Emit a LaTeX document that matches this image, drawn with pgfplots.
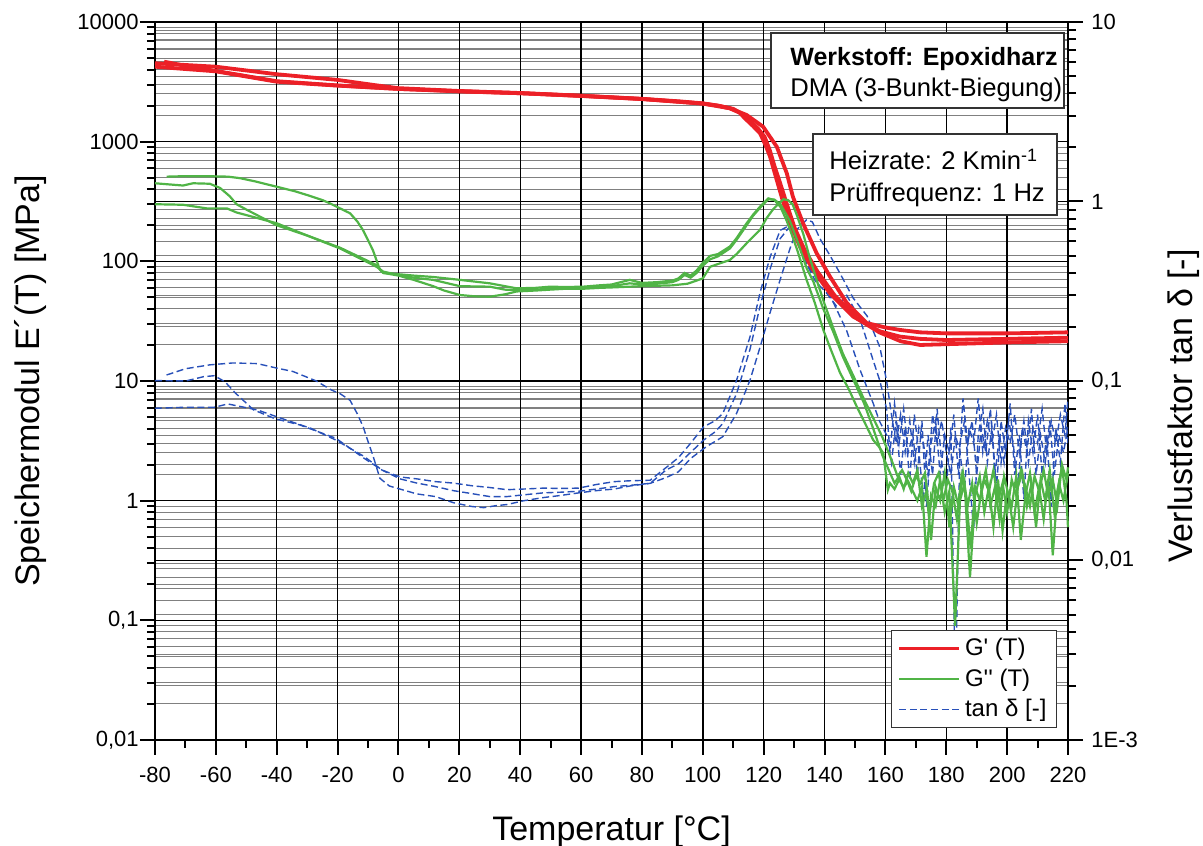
\documentclass[border=0pt]{standalone}
\usepackage{fontspec}
\setmainfont{Liberation Sans}
\usepackage{pgfplots}
\pgfplotsset{compat=1.18}

\definecolor{gred}{RGB}{236,32,39}
\definecolor{ggreen}{RGB}{80,180,70}
\definecolor{tblue}{RGB}{40,80,185}

\pgfplotsset{
  dmabase/.style={
    set layers,
    scale only axis, width=456.5pt, height=359pt,
    xmin=-80, xmax=220,
    axis line style={line width=1.4pt},
    tick style={line width=1pt, black},
    major tick length=7.5pt, minor tick length=4pt,
    tick align=outside,
    tick label style={font=\fontsize{11}{13}\selectfont},
    major grid style={black, line width=0.6pt},
    minor grid style={black!50, line width=0.5pt},
    label style={font=\fontsize{17}{20}\selectfont},
  },
  gp/.style={gred, line width=1.9pt},
  gpp/.style={ggreen, line width=1.1pt},
  td/.style={tblue, line width=0.7pt, dash pattern=on 3.5pt off 1.8pt},
  vgrid/.style={black, line width=0.7pt, forget plot},
}

\begin{document}
\begin{tikzpicture}

% right axis: loss factor tan delta
\begin{axis}[dmabase,
  axis x line=none, axis y line*=right,
  ymode=log, ymin=1e-3, ymax=10,
  ytick={0.001,0.01,0.1,1,10},
  yticklabels={1E-3,{0,01},{0,1},1,10},
  ymajorgrids, yminorgrids,
  yticklabel style={anchor=west, inner sep=0pt, xshift=4pt},
  ylabel={Verlustfaktor tan δ [-]},
  ylabel style={at={([xshift=58pt]axis description cs:1,0.465)}, anchor=center},
]
% vertical grid at the major temperature ticks
\addplot[vgrid] coordinates {(-60,0.001)(-60,10)};
\addplot[vgrid] coordinates {(-40,0.001)(-40,10)};
\addplot[vgrid] coordinates {(-20,0.001)(-20,10)};
\addplot[vgrid] coordinates {(0,0.001)(0,10)};
\addplot[vgrid] coordinates {(20,0.001)(20,10)};
\addplot[vgrid] coordinates {(40,0.001)(40,10)};
\addplot[vgrid] coordinates {(60,0.001)(60,10)};
\addplot[vgrid] coordinates {(80,0.001)(80,10)};
\addplot[vgrid] coordinates {(100,0.001)(100,10)};
\addplot[vgrid] coordinates {(120,0.001)(120,10)};
\addplot[vgrid] coordinates {(140,0.001)(140,10)};
\addplot[vgrid] coordinates {(160,0.001)(160,10)};
\addplot[vgrid] coordinates {(180,0.001)(180,10)};
\addplot[vgrid] coordinates {(200,0.001)(200,10)};
\addplot[td] coordinates {
(-76.2,0.108)(-70,0.117)(-62,0.123)(-54.5,0.126)(-46.4,0.125)(-40,0.118)(-34.7,0.113)
(-27,0.1)(-22,0.089)(-19.2,0.085)(-15.9,0.078)(-13.6,0.066)(-11.6,0.0556)(-10,0.046)
(-8.3,0.038)(-6.1,0.0287)(-3,0.026)(0.5,0.025)(6,0.0235)(12.2,0.0227)(18,0.021)
(24,0.0200)(28,0.0197)(32,0.0202)(35.7,0.0205)(41,0.0215)(47.5,0.0224)(53,0.023)
(59.2,0.0238)(65,0.0245)(70.9,0.025)(76,0.026)(82.7,0.0269)(88,0.029)(92,0.0312)
(96,0.037)(101.3,0.0432)(104,0.046)(106.6,0.049)(111.1,0.066)(115.5,0.101)(118.8,0.154)
(122.1,0.24)(125.4,0.366)(128.7,0.55)(131,0.7)(134.1,0.79)(136,0.77)(138.5,0.62)
(141.8,0.5)(145,0.4)(149.4,0.29)(154,0.23)(158.2,0.154)(160.4,0.1)(162,0.065)
(163.5,0.045)(165,0.065)(166.5,0.04)(168,0.06)(169.5,0.035)(171,0.055)(172.5,0.045)
(174,0.03)(175.5,0.065)(177,0.045)(178.5,0.06)(180,0.04)(181.5,0.03)(183,0.05)
(184.5,0.04)(186,0.025)(187.5,0.055)(189,0.045)(190.5,0.08)(192,0.04)(193.5,0.06)
(195,0.045)(196.5,0.065)(198,0.035)(199.5,0.055)(201,0.045)(202.5,0.065)(204,0.04)
(205.5,0.06)(207,0.035)(208.5,0.055)(210,0.045)(211.5,0.07)(213,0.04)(214.5,0.06)
(216,0.045)(217.5,0.065)(219,0.05)(220,0.08)};
\addplot[td] coordinates {
(-80,0.1005)(-69.9,0.1)(-64,0.1057)(-60.5,0.107)(-57,0.099)(-53.5,0.0854)(-47.6,0.069)
(-40.6,0.0617)(-32.4,0.0569)(-20.6,0.048)(-11.2,0.037)(-5.4,0.0319)(0.5,0.0285)(6,0.027)
(12.2,0.0258)(18,0.0245)(24,0.0236)(30,0.0227)(35.7,0.0227)(41,0.0232)(47.5,0.0238)
(53,0.024)(59.2,0.0243)(65,0.025)(70.9,0.0258)(76,0.0262)(82.7,0.0269)(88,0.032)
(92,0.0345)(96,0.04)(100.3,0.0469)(104,0.052)(106.6,0.058)(111.1,0.085)(115.5,0.15)
(118.8,0.26)(122.1,0.42)(125.4,0.62)(128.7,0.73)(130.5,0.7)(132,0.62)(134.1,0.45)
(137,0.38)(140.6,0.33)(144,0.25)(147.3,0.19)(151.7,0.115)(156,0.075)(158,0.06)
(160.4,0.05)(162,0.035)(163.5,0.06)(165,0.03)(166.5,0.055)(168,0.028)(169.5,0.065)
(171,0.04)(172.5,0.022)(174,0.05)(175.5,0.03)(177,0.07)(178.5,0.035)(180,0.025)
(181.5,0.055)(183,0.0018)(184.5,0.045)(186,0.06)(187.5,0.03)(189,0.015)(190.5,0.05)
(192,0.07)(193.5,0.035)(195,0.055)(196.5,0.025)(198,0.06)(199.5,0.04)(201,0.075)
(202.5,0.03)(204,0.05)(205.5,0.022)(207,0.06)(208.5,0.04)(210,0.065)(211.5,0.03)
(213,0.05)(214.5,0.02)(216,0.055)(217.5,0.035)(219,0.075)(220,0.045)};
\addplot[td] coordinates {
(-80,0.0705)(-69.9,0.0714)(-60.5,0.0714)(-56.1,0.0745)(-46.4,0.069)(-38.2,0.0617)
(-28.8,0.0545)(-20.6,0.0469)(-11.2,0.0379)(-5.4,0.0319)(0.5,0.0292)(6,0.0285)
(12.2,0.0275)(18,0.027)(24,0.0261)(30,0.0255)(35.7,0.0248)(41,0.025)(47.5,0.0253)
(53,0.0252)(59.2,0.0253)(65,0.0265)(70.9,0.0275)(76,0.0278)(82.7,0.028)(88,0.033)
(92,0.0374)(96,0.045)(100.3,0.0556)(104,0.06)(106.6,0.066)(111.1,0.101)(115.5,0.176)
(118.8,0.31)(122.1,0.49)(125.4,0.69)(127.5,0.72)(129,0.7)(131,0.6)(134.1,0.45)
(137,0.36)(140.6,0.31)(144,0.26)(147.3,0.3)(151.7,0.22)(156,0.13)(158.2,0.1)
(160.4,0.07)(161.5,0.04)(163,0.075)(164.5,0.045)(166,0.07)(167.5,0.04)(169,0.05)
(170.5,0.03)(172,0.06)(173.5,0.02)(175,0.045)(176.5,0.06)(178,0.03)(179.5,0.05)
(181,0.04)(182.5,0.065)(184,0.03)(185.5,0.08)(187,0.045)(188.5,0.06)(190,0.03)
(191.5,0.055)(193,0.04)(194.5,0.07)(196,0.03)(197.5,0.05)(199,0.035)(200.5,0.06)
(202,0.045)(203.5,0.025)(205,0.055)(206.5,0.04)(208,0.07)(209.5,0.03)(211,0.05)
(212.5,0.035)(214,0.06)(215.5,0.03)(217,0.05)(218.5,0.04)(220,0.055)};
\end{axis}

% left axis: storage and loss modulus
\begin{axis}[dmabase, name=main,
  xtick pos=left, ytick pos=left,
  ymode=log, ymin=0.01, ymax=10000,
  ytick={0.01,0.1,1,10,100,1000,10000},
  yticklabels={{0,01},{0,1},1,10,100,1000,10000},
  xtick={-80,-60,...,220},
  xticklabels={-80,-60,-40,-20,0,20,40,60,80,100,120,140,160,180,200,220},
  minor x tick num=1,
  ymajorgrids=true, yminorgrids=true,
  yticklabel style={anchor=east, inner sep=0pt, xshift=-0.5pt},
  xticklabel style={anchor=base, inner sep=0pt, yshift=-14pt},
  xlabel={Temperatur [°C]},
  xlabel style={at={(axis description cs:0.5,0)}, anchor=base, yshift=-50pt},
  ylabel={Speichermodul E´(T) [MPa]},
  ylabel style={at={([xshift=-62pt]axis description cs:0,0.5)}, anchor=center},
  clip=false,
  legend style={at={(0.988,0.0167)}, anchor=south east, draw=black!80,
    line width=0.6pt, fill=white, font=\fontsize{12}{14}\selectfont,
    inner xsep=3pt, inner ysep=2pt, row sep=1pt},
  legend cell align=left,
  legend image code/.code={\draw[#1] (0pt,0pt) -- (30pt,0pt);},
]
% G' (storage modulus), three runs
\addplot[gp] coordinates {
(-80,4520)(-60,4230)(-40,3660)(-20,3280)(-7,2950)(0,2800)(20,2650)(40,2550)(60,2420)
(80,2280)(92.5,2170)(100,2090)(105,2000)(108.9,1900)(112,1750)(114.4,1517)(116.5,1350)
(118.8,1175)(120.5,950)(122.1,749)(124.3,478)(126.5,307)(128.7,209)(131.9,133)
(136.2,85)(141.8,54)(149.4,34.5)(158.2,26)(164.8,23.5)(171.4,22.5)(180,22)(200,22.5)
(220,23)};
\addlegendentry{G\textquotesingle\ (T)}
\addplot[gp, forget plot] coordinates {
(-80,4230)(-60,3870)(-40,3170)(-20,2940)(0,2760)(20,2630)(40,2540)(60,2410)(80,2270)
(100,2080)(108.9,1900)(114.4,1671)(119.8,1334)(124.3,908)(127.6,544)(129.6,347)
(132.9,209)(137.4,117)(141.8,74.4)(147.3,44.9)(153.9,30.5)(160,28)(164.8,26.7)
(171.4,25.5)(180,25)(200,25)(220,25.5)};
\addplot[gp, forget plot] coordinates {
(-77,4660)(-70,4300)(-60,3900)(-40,3200)(-20,2950)(0,2760)(20,2640)(40,2540)(60,2415)
(80,2275)(100,2080)(105,2000)(110,1880)(113,1700)(116,1450)(118,1300)(120.3,1100)
(122,850)(123.6,620)(125.8,420)(128,280)(130.2,190)(133.4,125)(137.7,82)(143.3,52)
(150.9,33)(158,25.5)(165,21.5)(171.4,20)(180,20.3)(200,21)(220,21.5)};
% G'' (loss modulus), three runs
\addplot[gpp] coordinates {
(-76.2,510)(-70,515)(-62,514)(-56,510)(-52,495)(-47,465)(-40,420)(-34,385)(-30,358)
(-25,325)(-22.5,305)(-19.2,277)(-15.9,252)(-13.5,215)(-11.7,183)(-10,150)(-8.4,124)
(-6.1,85)(-5,80)(0,78)(5,76)(11.4,74)(20.2,70)(30,65.5)(35,62)(38.8,59.5)(45,60)
(49.8,61.4)(55,61)(60.7,61.4)(66,63)(70,64)(76,70)(80,66)(85,67)(90,69)(92,72)(94,80)
(96,76)(98,84)(100,97)(102.4,111)(105,115)(108.9,133)(111,155)(114.4,208)(116.5,245)
(118.8,286)(121.5,336)(123.5,325)(125.5,285)(127.5,220)(128.7,183)(131,125)(134.1,70)
(136.8,45)(139.6,26.7)(142,18.5)(145.1,11.7)(148,8.5)(150.6,6.1)(153,4.6)(156,3.21)
(158,2.8)(159.3,2.5)(160.8,1.23)(161.5,1.4)(163,1.25)(164.5,1.5)(166,1.3)(167.5,1.45)
(169,1.2)(170.5,1.0)(172,1.3)(173.5,0.34)(175,1.1)(176.5,0.9)(178,1.5)(179.5,0.8)
(181,1.2)(182.9,0.09)(184.5,1.0)(186,1.4)(187.8,0.23)(189.5,1.1)(191,1.6)(192.5,0.8)
(194,1.3)(195.5,0.6)(197,1.5)(198.5,0.56)(200,1.2)(201.5,0.9)(203,1.6)(204.5,0.47)
(206,1.1)(207.5,1.7)(209,0.8)(210.5,1.3)(212,0.7)(213.5,1.5)(215,0.35)(216.5,1.2)
(218,1.9)(219.5,1.0)(220,0.6)};
\addlegendentry{G\textquotesingle\textquotesingle\ (T)}
\addplot[gpp, forget plot] coordinates {
(-80,449)(-70.8,430)(-67.5,449)(-62,445)(-58.6,410)(-55.4,349)(-53.2,300)(-49.9,270)
(-40,200)(-30.2,165)(-19.2,128)(-7.2,90)(-5,82)(0,77)(5,73)(11.4,70)(20.2,62)(30,61.4)
(35,58)(38.8,57.6)(45,58)(49.8,59)(55,59.5)(60.7,60)(66,61)(70,62)(76,65.5)(80,64)
(85,65)(90,67)(92,70)(94,77)(96,73)(98,80)(100,92)(102.4,104)(105,110)(108.9,128)
(111,150)(114.4,200)(116.5,240)(118.8,280)(121.5,330)(123.5,328)(125.5,300)(127.5,245)
(128.7,215)(131,150)(134.1,88)(136.3,68)(139.6,40)(142.8,26)(146,16)(149.5,10.2)
(153,6.5)(156,4.0)(159,2.4)(162,1.6)(163,1.4)(164.5,1.6)(166,1.25)(167.5,1.7)(169,1.4)
(170.5,1.8)(172,0.9)(173.5,1.2)(175,0.47)(176.5,1.3)(178,1.0)(179.5,1.7)(181,0.6)
(182.5,1.3)(184,0.9)(185.5,1.7)(187,0.9)(188.5,1.4)(190,0.65)(191.5,1.2)(193,1.8)
(194.5,0.9)(196,1.3)(197.5,0.7)(199,1.6)(200.5,1.1)(202,0.6)(203.5,1.3)(205,1.7)
(206.5,0.9)(208,1.4)(209.5,0.6)(211,1.5)(212.5,1.0)(214,1.8)(215.5,0.8)(217,1.4)
(218.5,1.0)(220,1.7)};
\addplot[gpp, forget plot] coordinates {
(-80,300)(-70.8,297)(-63,277)(-56.4,277)(-53.2,256)(-40,208)(-30.2,165)(-19.2,130)
(-7.2,93)(-5,80)(0,76)(5,70)(11.4,62)(15,57)(20.2,52.3)(25,51)(30,50.6)(35,53)(38.8,56)
(45,57)(49.8,58)(55,59)(60.7,59)(66,60)(70,60.5)(76,61.4)(80,62)(85,62.5)(90,63)(95,65)
(100,72)(102.4,90)(105,95)(108.9,102.6)(111.1,115)(114.4,141.5)(116.5,160)(118.8,183)
(121,230)(123,270)(125,305)(126.5,330)(128,325)(129.5,300)(131,240)(133,170)(135,110)
(137.4,70)(140,44)(142.8,28)(146,17)(149.5,11)(153,7)(156,4.9)(159,3.4)(162.6,2.0)
(164,1.6)(165.5,1.8)(167,1.5)(168.5,1.2)(170,1.6)(171.5,1.4)(173,1.7)(174.5,0.8)
(176,1.4)(177.5,1.7)(179,1.0)(180.5,1.5)(182,1.2)(183.5,0.7)(185,1.6)(186.5,1.1)
(188,0.4)(189.5,1.3)(191,1.0)(192.5,1.5)(194,1.2)(195.5,1.8)(197,1.0)(198.5,1.4)
(200,0.8)(201.5,1.5)(203,1.1)(204.5,1.8)(206,1.3)(207.5,0.9)(209,1.6)(210.5,1.2)
(212,1.8)(213.5,1.1)(215,1.5)(216.5,0.9)(218,2.0)(219.5,1.5)(220,1.9)};
\addlegendimage{td}
\addlegendentry{tan δ [-]}

% annotation boxes
\draw[black!80, line width=0.6pt, fill=white]
  (rel axis cs:0.6747,0.8802) rectangle (rel axis cs:0.9956,0.9847);
\node[anchor=base west, inner sep=0pt, font=\fontsize{12.5}{15}\selectfont\bfseries]
  at (rel axis cs:0.6955,0.9401) {Werkstoff: Epoxidharz};
\node[anchor=base west, inner sep=0pt, font=\fontsize{12.8}{15}\selectfont]
  at (rel axis cs:0.6955,0.8969) {DMA (3-Bunkt-Biegung)};
\draw[black!80, line width=0.6pt, fill=white]
  (rel axis cs:0.7207,0.7312) rectangle (rel axis cs:0.9880,0.8440);
\node[anchor=base west, inner sep=0pt, font=\fontsize{12.8}{15}\selectfont]
  at (rel axis cs:0.7383,0.7939) {Heizrate: 2 Kmin\textsuperscript{-1}};
\node[anchor=base west, inner sep=0pt, font=\fontsize{12.8}{15}\selectfont]
  at (rel axis cs:0.7383,0.7497) {Prüffrequenz: 1 Hz};
\end{axis}

\pgfresetboundingbox
\path ([shift={(-77.5pt,-52.5pt)}]main.south west)
  rectangle ([shift={(67.5pt,11pt)}]main.north east);
\end{tikzpicture}
\end{document}
